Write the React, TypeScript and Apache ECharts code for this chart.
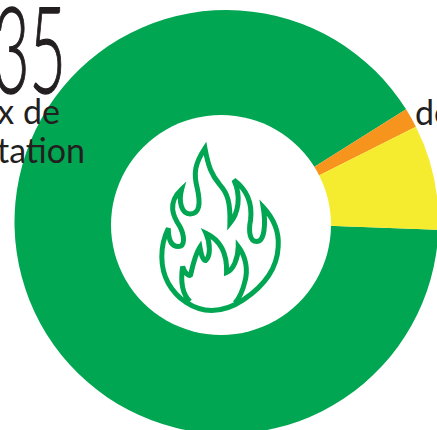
import React, { useEffect, useRef } from "react";
import * as echarts from "echarts";

// Share of each class around the ring.
const classNames = ["Forte", "Faible", "Moyenne"];
const classShares = [90.5, 1.5, 8];
const classColors = ["#00a651", "#f7941d", "#f5ec2f"];

const FLAME_D =
  "M195 55 C205 110 215 135 240 165 C262 190 272 215 270 280 C295 250 305 200 282 150 C322 180 338 220 332 270 C325 305 330 335 350 335 C375 335 378 280 370 232 C405 270 418 310 415 350 C412 420 370 470 310 510 C280 530 245 542 215 542 C160 542 110 505 85 460 C60 415 58 350 85 295 C85 330 95 350 115 350 C135 350 135 320 120 290 C100 260 80 220 125 178 C115 215 125 252 150 252 C180 252 182 220 172 175 C160 130 165 100 195 55 Z " +
  "M150 515 C125 490 122 450 128 410 C135 430 145 440 152 435 C160 400 165 375 180 352 C185 380 190 392 197 392 C212 380 212 340 198 310 C240 330 262 370 260 428 C280 420 295 385 295 350 C318 380 325 420 315 455 C308 485 298 505 285 520";

echarts.graphic.registerShape("flame", echarts.graphic.extendPath(FLAME_D, {}) as any);

const INK = "#231f20";
const LABEL_FONT = { fontFamily: "Lato", fontSize: 34, fill: INK, textVerticalAlign: "middle" };

export default function App() {
  const ref = useRef<HTMLDivElement>(null);
  useEffect(() => {
    document.body.style.margin = "0";
    const chart = echarts.init(ref.current!, null, { renderer: "svg" });
    chart.setOption({
      animation: false,
      backgroundColor: "#ffffff",
      series: [
        {
          type: "pie",
          center: [226.5, 222],
          radius: [0, 212],
          startAngle: -2.1,
          clockwise: true,
          silent: true,
          label: { show: false },
          labelLine: { show: false },
          data: classNames.map((name, i) => ({
            name,
            value: classShares[i],
            itemStyle: { color: classColors[i] },
          })),
        },
      ],
      graphic: [
        { type: "circle", z: 10, shape: { cx: 221, cy: 225, r: 110 }, style: { fill: "#ffffff" } },
        {
          type: "flame",
          z: 11,
          x: 140,
          y: 130,
          scaleX: 1 / 3,
          scaleY: 1 / 3,
          style: { fill: "none", stroke: "#00a651", lineWidth: 15 },
        },
        {
          type: "text",
          z: 12,
          x: -7,
          y: -14,
          scaleX: 0.52,
          style: {
            text: "35",
            fontFamily: "Lato",
            fontWeight: 300,
            fontSize: 121,
            fill: INK,
            stroke: INK,
            lineWidth: 1.4,
            textAlign: "left",
          },
        },
        { type: "text", z: 12, style: { ...LABEL_FONT, x: 60, y: 110, text: "x de", textAlign: "right" } },
        { type: "text", z: 12, style: { ...LABEL_FONT, x: 85, y: 149, text: "tation", textAlign: "right" } },
        { type: "text", z: 12, style: { ...LABEL_FONT, x: 415, y: 111, text: "de", textAlign: "left" } },
      ],
    });
    return () => chart.dispose();
  }, []);
  return <div ref={ref} style={{ width: 437, height: 430, overflow: "hidden" }} />;
}
